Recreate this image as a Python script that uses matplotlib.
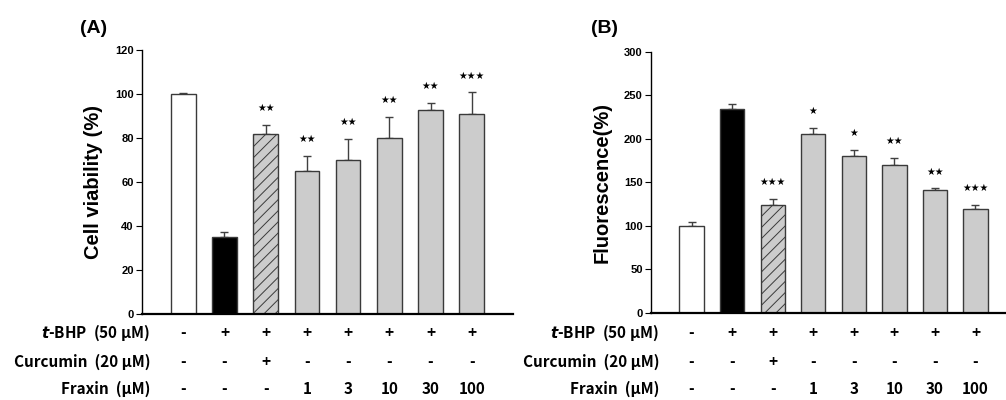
import matplotlib
matplotlib.use('Agg')

import matplotlib.pyplot as plt
import matplotlib.transforms as mtransforms
import numpy as np

plt.rcParams['font.family'] = ['Liberation Sans', 'DejaVu Sans']
plt.rcParams['hatch.linewidth'] = 0.7
plt.rcParams['hatch.color'] = '#404040'

# 数据
viability = [100.0, 34.8, 81.9, 65.0, 69.8, 79.8, 92.8, 90.7]
viability_sd = [0.6, 2.4, 4.2, 6.9, 9.7, 9.7, 3.3, 10.1]
viability_sig = ['', '', '**', '**', '**', '**', '**', '***']

fluor = [100.0, 233.8, 124.0, 205.9, 180.2, 169.5, 141.6, 119.8]
fluor_sd = [4.1, 5.8, 7.3, 6.9, 7.3, 8.5, 1.5, 4.2]
fluor_sig = ['', '', '***', '*', '*', '**', '**', '***']

tbhp = ['-', '+', '+', '+', '+', '+', '+', '+']
curcumin = ['-', '-', '+', '-', '-', '-', '-', '-']
fraxin = ['-', '-', '-', '1', '3', '10', '30', '100']
row_labels = [r'$\boldsymbol{t}$-BHP  (50 μM)', 'Curcumin  (20 μM)', 'Fraxin  (μM)']

fills = ['white', 'black', '#cccccc', '#cccccc', '#cccccc', '#cccccc', '#cccccc', '#cccccc']
hatches = ['', '', '///', '', '', '', '', '']

W, H = 1006, 400
fig = plt.figure(figsize=(W / 100, H / 100), dpi=100)

# 坐标轴位置 (像素)
ax_a = fig.add_axes([142 / W, (H - 314) / H, 371 / W, 264 / H])
ax_b = fig.add_axes([651 / W, (H - 313) / H, 365 / W, 261.3 / H])


def draw_panel(ax, vals, sds, sigs, ymax, step, ylabel, tag, tag_xy):
    x = np.arange(len(vals))
    bars = ax.bar(x, vals, width=0.6, color=fills, edgecolor='#3a3a3a',
                  linewidth=1.0, zorder=2)
    for b, h in zip(bars, hatches):
        b.set_hatch(h)
    ax.errorbar(x, vals, yerr=[np.zeros(len(sds)), sds], fmt='none',
                ecolor='#404040', elinewidth=1.0, capsize=3.2, capthick=1.0, zorder=1)
    for xi, v, s, sig in zip(x, vals, sds, sigs):
        if sig:
            ax.annotate('★' * len(sig), (xi, v + s), xytext=(0, 12),
                        textcoords='offset points', ha='center', va='center',
                        fontsize=7, family=['DejaVu Sans'])
    ax.set_xlim(-1, 8)
    ax.set_ylim(0, ymax)
    ax.set_yticks(np.arange(0, ymax + 1, step))
    ax.set_xticks([])
    for sp in ['top', 'right']:
        ax.spines[sp].set_visible(False)
    ax.spines['left'].set_linewidth(1.0)
    ax.spines['bottom'].set_linewidth(1.6)
    ax.tick_params(axis='y', direction='out', length=4, width=0.8, pad=2,
                   labelsize=8)
    for lab in ax.get_yticklabels():
        lab.set_fontweight('bold')
    ax.set_ylabel(ylabel, fontsize=14.5, fontweight='bold', labelpad=9)
    ax.text(tag_xy[0], tag_xy[1], tag, transform=ax.transAxes, fontsize=14,
            fontweight='bold', ha='left', va='center')

    # 下方处理表格
    trans = mtransforms.blended_transform_factory(ax.transData, fig.transFigure)
    rows_y = [1 - 333 / H, 1 - 362 / H, 1 - 389 / H]
    for ry, lab, row in zip(rows_y, row_labels, [tbhp, curcumin, fraxin]):
        ax.text(-0.8, ry, lab, transform=trans, ha='right', va='center',
                fontsize=11, fontweight='bold',
                family=['Noto Sans CJK KR', 'DejaVu Sans'])
        for xi, t in zip(x, row):
            ax.text(xi, ry, t, transform=trans, ha='center', va='center',
                    fontsize=11, fontweight='bold',
                    family=['Noto Sans CJK KR', 'DejaVu Sans'])


draw_panel(ax_a, viability, viability_sd, viability_sig, 120, 20,
           'Cell viability (%)', '(A)', (-0.167, 1.083))
draw_panel(ax_b, fluor, fluor_sd, fluor_sig, 300, 50,
           'Fluorescence(%)', '(B)', (-0.164, 1.09))

fig.savefig('out.png', dpi=100)
